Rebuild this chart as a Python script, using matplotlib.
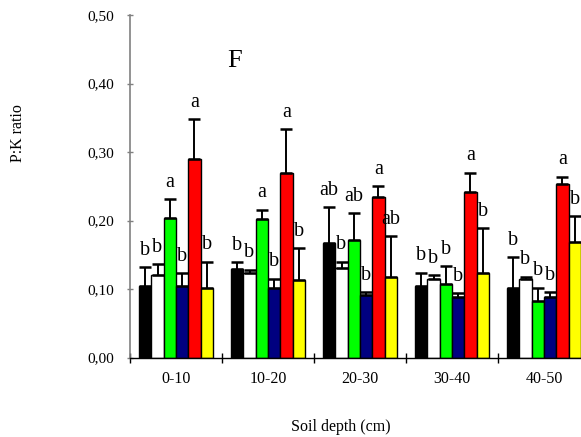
import numpy as np
import matplotlib
matplotlib.use("Agg")
import matplotlib.pyplot as plt

# 数据
depths = ["0-10", "10-20", "20-30", "30-40", "40-50"]
colors = ["#000000", "#ffffff", "#00ff00", "#000080", "#ff0000", "#ffff00"]

# 每个处理在五个深度的均值
black = [0.105, 0.129, 0.167, 0.105, 0.102]
white = [0.121, 0.124, 0.130, 0.114, 0.114]
green = [0.203, 0.202, 0.172, 0.107, 0.083]
navy = [0.105, 0.101, 0.091, 0.089, 0.089]
red = [0.290, 0.270, 0.234, 0.241, 0.254]
yellow = [0.101, 0.113, 0.118, 0.123, 0.168]

# 误差线（上方）
black_err = [0.027, 0.010, 0.052, 0.019, 0.044]
white_err = [0.015, 0.004, 0.010, 0.006, 0.004]
green_err = [0.028, 0.014, 0.039, 0.026, 0.019]
navy_err = [0.018, 0.014, 0.004, 0.005, 0.006]
red_err = [0.058, 0.063, 0.016, 0.029, 0.010]
yellow_err = [0.039, 0.047, 0.059, 0.066, 0.038]

# 显著性字母
black_lbl = ["b", "b", "ab", "b", "b"]
white_lbl = ["b", "b", "b", "b", "b"]
green_lbl = ["a", "a", "ab", "b", "b"]
navy_lbl = ["b", "b", "b", "b", "b"]
red_lbl = ["a", "a", "a", "a", "a"]
yellow_lbl = ["b", "b", "ab", "b", "b"]

yticks = [0.0, 0.1, 0.2, 0.3, 0.4, 0.5]
ytick_labels = ["0,00", "0,10", "0,20", "0,30", "0,40", "0,50"]

plt.rcParams["font.family"] = ["Liberation Serif", "DejaVu Serif"]

W, H = 581, 437
fig = plt.figure(figsize=(W / 100, H / 100), dpi=100)
# 坐标轴位置（像素换算）
left, right = 130 / W, 590 / W
bottom, top = (H - 357.5) / H, (H - 15) / H
ax = fig.add_axes([left, bottom, right - left, top - bottom])

series = [black, white, green, navy, red, yellow]
errs = [black_err, white_err, green_err, navy_err, red_err, yellow_err]
labels = [black_lbl, white_lbl, green_lbl, navy_lbl, red_lbl, yellow_lbl]

x = np.arange(len(depths))
bw = 0.134
for i, (vals, err, lbl, c) in enumerate(zip(series, errs, labels, colors)):
    pos = x + (i - 2.5) * bw
    ax.bar(pos, vals, width=bw, color=c, edgecolor="black", linewidth=1.0, zorder=2)
    ax.errorbar(pos, vals, yerr=[np.zeros(len(vals)), err], fmt="none",
                ecolor="black", elinewidth=1.4, capsize=4.5, capthick=1.8, zorder=3)
    for p, v, e, t in zip(pos, vals, err, lbl):
        ax.text(p, v + e + 0.018, t, ha="center", va="baseline", fontsize=14.5)

ax.set_xlim(-0.5, len(depths) - 0.5)
ax.set_ylim(0, 0.5)
ax.set_yticks(yticks)
ax.set_yticklabels(ytick_labels, fontsize=11)
ax.set_xticks(x)
ax.set_xticklabels(depths, fontsize=11.5)
ax.set_xticks(np.arange(-0.5, len(depths), 1.0), minor=True)
ax.tick_params(axis="x", which="major", length=0, pad=10)
ax.tick_params(axis="x", which="minor", direction="inout", length=7, width=1.0)
ax.tick_params(axis="y", direction="inout", length=5, width=1.0, color="#808080", pad=9)

for s in ["top", "right"]:
    ax.spines[s].set_visible(False)
ax.spines["left"].set_color("#808080")
ax.spines["left"].set_linewidth(1.2)
ax.spines["bottom"].set_color("black")
ax.spines["bottom"].set_linewidth(1.0)

fig.text(235 / W, 1 - 61 / H, "F", ha="center", va="center", fontsize=19)
fig.text(18 / W, 1 - 133 / H, "P:K ratio", rotation=90, ha="center", va="center", fontsize=11.5)
fig.text(341 / W, 1 - 427 / H, "Soil depth (cm)", ha="center", va="center", fontsize=11.5)

fig.savefig("out.png", dpi=100)
